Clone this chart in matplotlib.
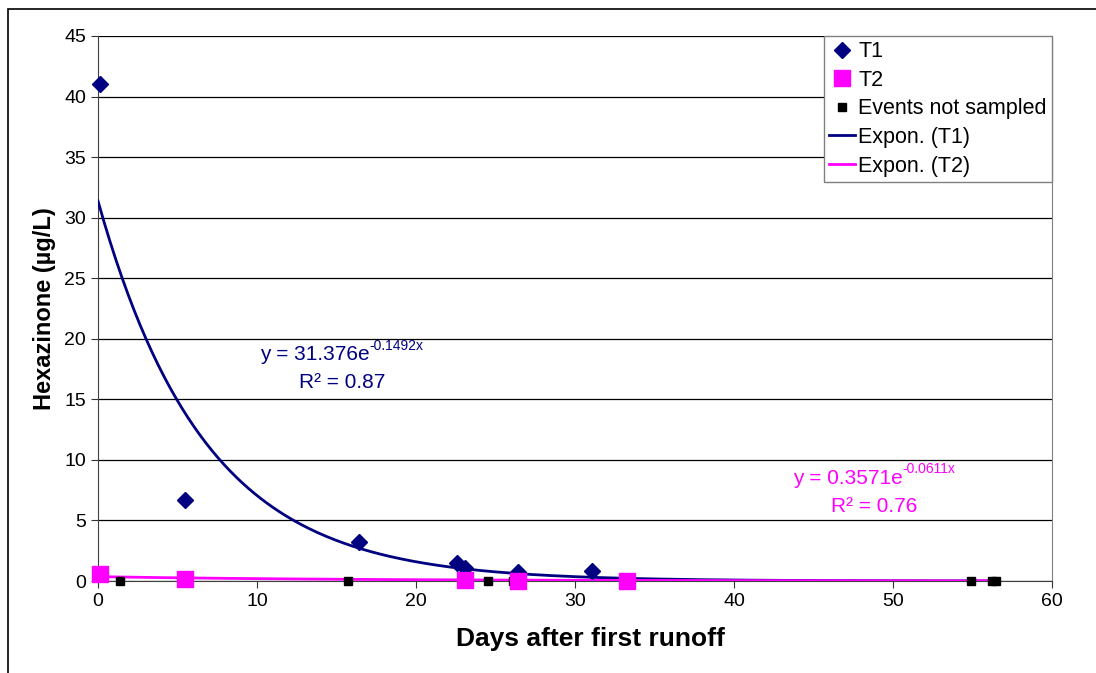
import numpy as np
import matplotlib
matplotlib.use('Agg')
import matplotlib.pyplot as plt
from matplotlib.patches import Rectangle
from matplotlib.lines import Line2D

plt.rcParams['font.family'] = ['Liberation Sans', 'DejaVu Sans']

# data
t1_days = [0.1, 5.5, 16.4, 22.6, 23.1, 26.4, 31.1]
t1_conc = [41.0, 6.7, 3.2, 1.5, 1.1, 0.75, 0.8]
t2_days = [0.1, 5.5, 23.1, 26.4, 33.3]
t2_conc = [0.6, 0.2, 0.1, 0.0, 0.0]
ns_days = [1.4, 15.7, 24.5, 26.1, 54.9, 56.2, 56.5]
ns_conc = [0, 0, 0, 0, 0, 0, 0]

# exponential trendline coefficients (from the chart labels)
t1_a, t1_b, t1_r2 = 31.376, -0.1492, 0.87
t2_a, t2_b, t2_r2 = 0.3571, -0.0611, 0.76
trend_end = 56.5

navy = '#000080'
magenta = '#FF00FF'

W, H = 1096, 673
fig = plt.figure(figsize=(W / 100, H / 100), dpi=100)

# outer chart frame (only top and left show in the picture)
fig.patches.append(Rectangle((8 / W, -0.1), 1.2, 1 - 9 / H + 0.1, transform=fig.transFigure,
                             fill=False, edgecolor='black', linewidth=1.2))

ax = fig.add_axes([98 / W, 92 / H, 954 / W, 545 / H])

xs = np.linspace(0, trend_end, 300)
ax.plot(xs, t1_a * np.exp(t1_b * xs), color=navy, linewidth=2, zorder=3)
ax.plot(xs, t2_a * np.exp(t2_b * xs), color=magenta, linewidth=2, zorder=3)

ax.plot(t1_days, t1_conc, linestyle='none', marker='D', markersize=8, color=navy, zorder=4, clip_on=False)
ax.plot(ns_days, ns_conc, linestyle='none', marker='s', markersize=6, color='black', zorder=4, clip_on=False)
ax.plot(t2_days, t2_conc, linestyle='none', marker='s', markersize=11, color=magenta, zorder=5, clip_on=False)

ax.set_xlim(0, 60)
ax.set_ylim(0, 45)
ax.set_xticks(range(0, 61, 10))
ax.set_yticks(range(0, 46, 5))
ax.yaxis.grid(True, color='black', linewidth=0.9)
ax.set_axisbelow(True)
ax.tick_params(labelsize=14, length=5, direction='out', colors='#333333', labelcolor='black')

ax.spines['top'].set_visible(False)
ax.spines['right'].set_color('#808080')
ax.spines['left'].set_color('#404040')
ax.spines['bottom'].set_color('#404040')

ax.set_xlabel('Days after first runoff', fontsize=19, fontweight='bold')
ax.xaxis.set_label_coords(0.516, -0.085)
ax.set_ylabel('Hexazinone (µg/L)', fontsize=17, fontweight='bold', labelpad=6)


def eq_label(cx, cy, base, sup, color):
    # base text with a hyphen superscript after it, centred on (cx, cy) in pixels from top-left
    fig.canvas.draw()
    r = fig.canvas.get_renderer()
    tb = fig.text(0, 0, base, fontsize=15, color=color, va='center', ha='left')
    ts = fig.text(0, 0, sup, fontsize=10, color=color, va='center', ha='left')
    wb = tb.get_window_extent(r).width
    ws = ts.get_window_extent(r).width
    x0 = cx - (wb + ws) / 2
    tb.set_position((x0 / W, 1 - cy / H))
    ts.set_position(((x0 + wb) / W, 1 - (cy - 9) / H))


eq_label(342, 355, 'y = %.3fe' % t1_a, '%.4fx' % t1_b, navy)
fig.text(342 / W, 1 - 383 / H, 'R² = %.2f' % t1_r2, fontsize=15, color=navy, ha='center', va='center')
eq_label(874, 478, 'y = %.4fe' % t2_a, '%.4fx' % t2_b, magenta)
fig.text(874 / W, 1 - 506 / H, 'R² = %.2f' % t2_r2, fontsize=15, color=magenta, ha='center', va='center')

handles = [
    Line2D([], [], linestyle='none', marker='D', markersize=8, color=navy),
    Line2D([], [], linestyle='none', marker='s', markersize=11, color=magenta),
    Line2D([], [], linestyle='none', marker='s', markersize=6, color='black'),
    Line2D([], [], color=navy, linewidth=2),
    Line2D([], [], color=magenta, linewidth=2),
]
labels = ['T1', 'T2', 'Events not sampled', 'Expon. (T1)', 'Expon. (T2)']
leg = ax.legend(handles, labels, loc='upper right', bbox_to_anchor=(1.0, 1.0),
                fontsize=15.5, frameon=True, fancybox=False, framealpha=1,
                edgecolor='#808080', borderpad=0.25, handlelength=1.2,
                handletextpad=0.15, labelspacing=0.35, borderaxespad=0)
leg.get_frame().set_linewidth(1)

fig.savefig('out.png', dpi=100)
